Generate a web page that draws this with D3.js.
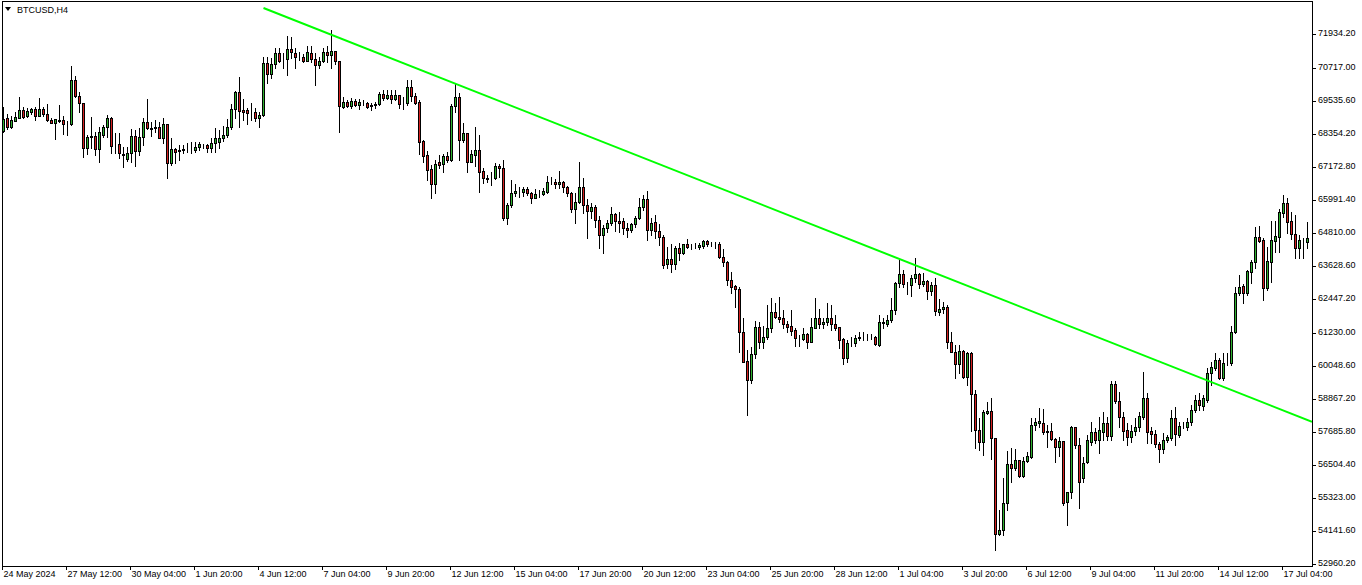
<!DOCTYPE html>
<html><head><meta charset="utf-8">
<script src="https://cdn.jsdelivr.net/npm/d3@7"></script>
<style>html,body{margin:0;padding:0;background:#fff;overflow:hidden}</style>
</head><body><svg id="c" width="1362" height="585"></svg>
<script>
const symbolTitle = "BTCUSD,H4";
const timeLabels = ["24 May 2024","27 May 12:00","30 May 04:00","1 Jun 20:00","4 Jun 12:00","7 Jun 04:00","9 Jun 20:00","12 Jun 12:00","15 Jun 04:00","17 Jun 20:00","20 Jun 12:00","23 Jun 04:00","25 Jun 20:00","28 Jun 12:00","1 Jul 04:00","3 Jul 20:00","6 Jul 12:00","9 Jul 04:00","11 Jul 20:00","14 Jul 12:00","17 Jul 04:00"];
const priceTicks = [71934.20,70717.00,69535.60,68354.20,67172.80,65991.40,64810.00,63628.60,62447.20,61230.00,60048.60,58867.20,57685.80,56504.40,55323.00,54141.60,52960.20];
const opens = [68462,68927,68605,68820,68927,69214,68999,69142,69250,68999,69250,69070,68855,68748,68820,68855,68748,68712,70287,69715,69464,67853,68283,68283,67817,68318,68605,68927,67996,67996,67638,67459,67674,68283,67746,68247,68784,68569,68569,68605,68211,68712,67316,67817,67746,67781,67853,67853,67781,67889,67996,67960,67853,68032,68068,68211,68318,68605,69250,69858,69214,69214,69142,69142,68927,69035,70896,70502,70860,71254,71039,71039,71397,71254,71111,71111,70968,71254,71039,70824,70968,71290,71182,71326,70968,69321,69500,69357,69536,69393,69500,69464,69357,69393,69429,69786,69643,69750,69607,69750,69464,69464,70037,69715,69500,68104,67602,67101,66564,67352,67280,67567,67423,69357,69679,68139,68390,67352,67602,67781,67030,66779,66779,66779,67209,67137,65347,65812,66242,66278,66278,66385,66242,66063,66206,66206,66278,66636,66636,66564,66636,66457,66242,65669,65920,66457,65812,65598,65741,65275,64738,64989,65168,65490,65240,65240,64989,64917,65132,65347,65741,66027,64917,65204,64882,64667,63700,63879,63700,64273,64094,64416,64309,64345,64309,64345,64524,64452,64452,64416,63951,63772,63127,62913,62805,61266,60228,59547,60478,61445,60908,61087,61409,61982,61803,61767,61552,61481,61337,61051,61015,61194,60908,61409,61767,61552,61624,61767,61552,61445,61015,60335,60872,60872,61051,61087,61087,61087,61087,60800,61588,61552,61695,62053,63020,63342,62984,62948,63199,63342,62984,63092,62734,62948,61982,62089,62161,60908,60550,60120,60586,59655,60514,59046,57757,57328,58366,58438,57471,54034,54177,55144,56540,56397,56683,56111,56648,56791,57936,58008,58008,57722,57722,57435,57149,57364,55180,55538,57865,57220,56039,56612,57328,57686,57399,57686,58008,57543,59404,58796,58223,57757,57507,57722,57865,58223,58903,57722,57614,57256,57077,57399,57471,58187,57578,57865,57865,58044,58473,58831,58617,58831,59798,59977,60263,59619,60156,60156,61266,62662,62913,62662,63414,63772,64667,64559,62841,63772,64524,64667,65526,65884,65240,64774,64273,64559,64488];
const highs = [69321,69070,68999,69142,69679,69321,69286,69286,69321,69643,69321,69429,68927,68891,69393,68999,68820,70789,70431,69858,69464,68318,68963,68426,68605,68677,69035,68963,68390,68390,67889,67889,68533,68497,68569,68927,69607,68784,68855,68784,68927,68712,68211,67853,67960,67960,68032,68068,68068,68068,67996,67996,68211,68569,68497,68641,68891,69429,69894,70395,69607,69286,69464,69286,69142,71111,71111,71075,71433,71433,71254,71863,71827,71433,71290,71218,71505,71505,71254,71111,71433,71505,72077,71326,70968,69679,69571,69643,69607,69607,69571,69500,69464,69500,69858,69929,69929,69929,69929,69750,69679,70287,70287,69822,69571,68139,67746,67244,67423,67602,67638,67710,69429,70144,69822,68748,68390,67781,68605,68318,67137,66886,66994,67316,67280,67423,65884,66707,66564,66457,66457,66457,66278,66385,66349,66421,66851,66815,66743,67030,66672,66493,66278,66242,67352,66779,66027,65884,65812,65419,65096,65275,65741,65526,65562,65347,65168,65168,65419,66063,66170,66314,65347,65454,65132,64738,64309,64416,64345,64452,64416,64595,64416,64452,64452,64559,64559,64488,64488,64488,64237,63808,63414,62948,62877,61767,60621,60729,61660,61624,61481,62232,62483,62304,62519,62053,61660,62053,61409,61158,61409,61230,61767,62483,62089,61767,62304,62232,61874,61445,61051,60979,61087,61158,61266,61266,61194,61194,61123,61874,61767,61874,62483,63056,63843,63485,63056,63306,63915,63378,63378,63127,63056,63199,62447,62340,62232,61266,60800,60800,60621,60550,60550,59189,58187,58473,58760,58903,57471,54893,56039,57006,57113,57077,56683,56791,56970,58187,58187,58545,58509,57936,58008,57471,57507,57364,55538,57901,57865,57471,56791,57578,58044,57829,58223,58402,58223,59512,59512,59118,58402,58008,57936,58187,58402,59834,59082,57865,57757,57328,57650,57578,58473,58581,58044,58044,58187,58652,59010,59082,59010,59977,60192,60514,60335,60514,60514,61481,62877,63306,62984,63485,63843,65025,65061,64631,64309,65240,65240,65669,66170,66063,65562,65454,64738,64631,65204];
const lows = [68426,68533,68569,68820,68927,68927,68963,69070,68855,68999,68999,68820,68748,68175,68784,68354,68318,68677,69679,69142,67531,67638,67853,67602,67352,68247,68247,67674,67674,67495,67173,67388,67352,67209,67602,67960,68533,68283,68426,68211,68032,66779,67244,67316,67423,67674,67710,67674,67710,67781,67853,67710,67710,67710,67853,68104,68247,68533,68927,68605,68855,68712,68855,68820,68605,68999,70180,70359,70717,70932,70717,70466,71075,70717,71003,70932,70968,70932,70108,70717,70932,70932,70717,70860,68426,69286,69321,69286,69357,69250,69393,69286,69214,69286,69393,69571,69607,69464,69571,69286,69250,69393,69536,69429,67638,67352,66707,66063,66242,67137,66994,67352,67388,69142,67423,68068,66994,67352,67209,66278,66600,66636,66528,66743,66815,65275,65132,65741,66135,66099,66135,66170,65884,66063,66099,66170,66242,66564,66421,66421,66278,66135,65562,65168,65884,65526,64631,65347,65025,64273,64094,64846,65096,64882,64846,64774,64667,64846,65025,65311,65633,64559,64738,64631,64380,63557,63557,63414,63521,63843,64058,64273,64237,64273,64237,64273,64345,64345,64273,63915,63629,62948,62662,62161,60550,60192,58294,59440,60335,60693,60693,61015,61266,61767,61624,61409,61266,61158,60765,60765,60979,60693,60908,61409,61409,61409,61516,61337,61337,60693,60120,60192,60765,60765,60979,60979,60979,61015,60800,60765,61409,61481,61624,61910,62877,62877,62626,62555,63056,62841,62913,62447,62590,61874,61874,61946,60693,60550,59619,59798,59619,59368,57722,57113,57041,56862,58330,56719,53461,53998,53998,54893,55896,56325,56075,56075,56612,56755,57757,57865,57614,57149,57399,56612,56827,55072,54356,55323,57113,54965,55896,56576,57220,57292,56934,57399,57399,57399,58724,57865,57399,57220,57328,57578,57722,58151,57292,57292,57149,56612,56934,57328,57399,57220,57507,57829,57757,57936,58402,58473,58473,58760,59368,59905,59583,59547,60084,60084,61230,62590,62304,62590,63020,63557,64488,62411,62769,63056,64130,64130,65383,64810,64595,63915,63915,63915,64273];
const closes = [68891,68605,68855,68963,69214,68963,69178,69250,68999,69250,69070,68855,68748,68891,68855,68712,68748,70287,69715,69464,67853,68247,68247,67817,68426,68605,68927,67925,67996,67674,67602,67674,68283,67746,68247,68784,68569,68533,68605,68211,68712,67316,67817,67710,67781,67817,67853,67853,67889,67996,67996,67853,68032,68211,68211,68318,68605,69250,69858,69178,69142,69106,69142,68927,69035,70896,70502,70860,71254,70968,71039,71397,71290,71111,71111,70968,71290,71039,70824,70968,71290,71182,71326,70968,69357,69500,69357,69536,69393,69500,69500,69321,69393,69429,69786,69643,69750,69607,69750,69429,69464,70037,69715,69464,68068,67567,67065,66564,67280,67244,67567,67423,69357,69679,68139,68390,67352,67638,67781,66994,66779,66743,66779,67209,67137,65347,65812,66242,66314,66278,66385,66242,66063,66206,66206,66314,66636,66636,66564,66636,66457,66242,65669,65920,66457,65812,65598,65741,65275,64738,64989,65168,65490,65240,65168,64989,64917,65132,65347,65741,66027,64917,65168,64882,64667,63664,63879,63700,64273,64094,64416,64309,64309,64345,64380,64524,64416,64452,64452,63951,63772,63127,62877,62805,61266,60192,59547,60478,61445,60908,61087,61409,61982,61803,61731,61552,61445,61302,61051,61051,61194,60908,61445,61767,61552,61624,61767,61552,61409,60979,60335,60872,60872,61051,61087,61087,61087,61087,60836,61624,61624,61695,62053,63020,63342,62984,62984,63199,63342,62984,63092,62734,62948,62018,62089,62161,60908,60550,60120,60586,59655,60514,59046,57757,57328,58402,58438,57471,54034,54177,55144,56540,56397,56683,56111,56648,56827,57936,58044,58080,57686,57686,57435,57149,57364,55144,55538,57865,57220,55896,56576,57399,57686,57399,57757,58008,57543,59404,58796,58223,57722,57507,57722,57865,58259,58903,57686,57614,57256,57077,57399,57507,58187,57614,57901,57865,58044,58473,58831,58652,58903,59798,60013,60263,59619,60156,60156,61266,62662,62877,62662,63450,63772,64667,64524,62841,63808,64559,64703,65562,65884,65204,64774,64273,64559,64559,64631];
// trend line anchors: [candle index, price]
const trendA = [65, 72865];
const trendB = [300, 59583];

const W = 1362, H = 585;
const plot = {left: 2, top: 1, right: 1312, bottom: 566};
const bullFill = "#2fb12f", bearFill = "#d42020";
const svg = d3.select("#c");
const n = opens.length;
const x = d3.scaleLinear().domain([0, n - 1]).range([3.5, 3.5 + 4 * (n - 1)]);
const y = d3.scaleLinear().domain([73151.4, 52960.2]).range([0, 564]);
const py = v => Math.round(y(v)) + 0.5;

svg.append("rect").attr("width", W).attr("height", H).attr("fill", "#fff");
const defs = svg.append("defs");
defs.append("clipPath").attr("id", "pc").append("rect")
  .attr("x", plot.left).attr("y", plot.top).attr("width", plot.right - plot.left).attr("height", plot.bottom - plot.top);
const g = svg.append("g").attr("clip-path", "url(#pc)").attr("shape-rendering", "crispEdges");

const data = d3.range(n).map(i => ({i, o: opens[i], h: highs[i], l: lows[i], c: closes[i]}));
g.selectAll("line.w").data(data).join("line").attr("class", "w")
  .attr("x1", d => x(d.i)).attr("x2", d => x(d.i))
  .attr("y1", d => py(d.h) - 0.5).attr("y2", d => py(d.l) + 0.5)
  .attr("stroke", "#000").attr("stroke-width", 1);
g.selectAll("rect.b").data(data).join("rect").attr("class", "b")
  .attr("x", d => x(d.i) - 1)
  .attr("y", d => py(Math.max(d.o, d.c)))
  .attr("width", 2)
  .attr("height", d => Math.max(0, py(Math.min(d.o, d.c)) - py(Math.max(d.o, d.c))))
  .attr("fill", d => d.c >= d.o ? bullFill : bearFill)
  .attr("stroke", "#000").attr("stroke-width", 1);

// trend line (ray to the right edge)
const slope = (trendB[1] - trendA[1]) / (trendB[0] - trendA[0]);
const iEnd = x.invert(plot.right);
svg.append("line")
  .attr("x1", x(trendA[0])).attr("y1", y(trendA[1]))
  .attr("x2", plot.right).attr("y2", y(trendA[1] + slope * (iEnd - trendA[0])))
  .attr("stroke", "#00ff00").attr("stroke-width", 2)
  .attr("clip-path", "url(#pc)");

// frame
svg.append("rect").attr("x", plot.left + 0.5).attr("y", plot.top + 0.5)
  .attr("width", plot.right - plot.left).attr("height", plot.bottom - plot.top)
  .attr("fill", "none").attr("stroke", "#000").attr("shape-rendering", "crispEdges");

// price axis
const ya = svg.append("g").attr("shape-rendering", "crispEdges");
priceTicks.forEach(p => {
  const yy = py(p);
  ya.append("line").attr("x1", plot.right).attr("x2", plot.right + 4).attr("y1", yy).attr("y2", yy).attr("stroke", "#000");
  ya.append("text").attr("x", plot.right + 6).attr("y", yy - 1.5).attr("dy", "0.35em")
    .attr("font-family", "Liberation Sans, Arial, sans-serif").attr("font-size", 9).attr("fill", "#000").text(p.toFixed(2));
});

// time axis
const ta = svg.append("g").attr("shape-rendering", "crispEdges");
timeLabels.forEach((t, k) => {
  const xx = Math.round(x(16 * k) - 1.5) + 0.5;
  ta.append("line").attr("x1", xx).attr("x2", xx).attr("y1", plot.bottom).attr("y2", plot.bottom + 4).attr("stroke", "#000");
  ta.append("text").attr("x", xx + 1).attr("y", 577)
    .attr("font-family", "Liberation Sans, Arial, sans-serif").attr("font-size", 9).attr("fill", "#000").text(t);
});

// title
svg.append("path").attr("d", "M5,7 L11,7 L8,11 Z").attr("fill", "#000");
svg.append("text").attr("x", 17).attr("y", 13).attr("font-family", "Liberation Sans, Arial, sans-serif")
  .attr("font-size", 9).attr("fill", "#000").text(symbolTitle);
</script></body></html>
